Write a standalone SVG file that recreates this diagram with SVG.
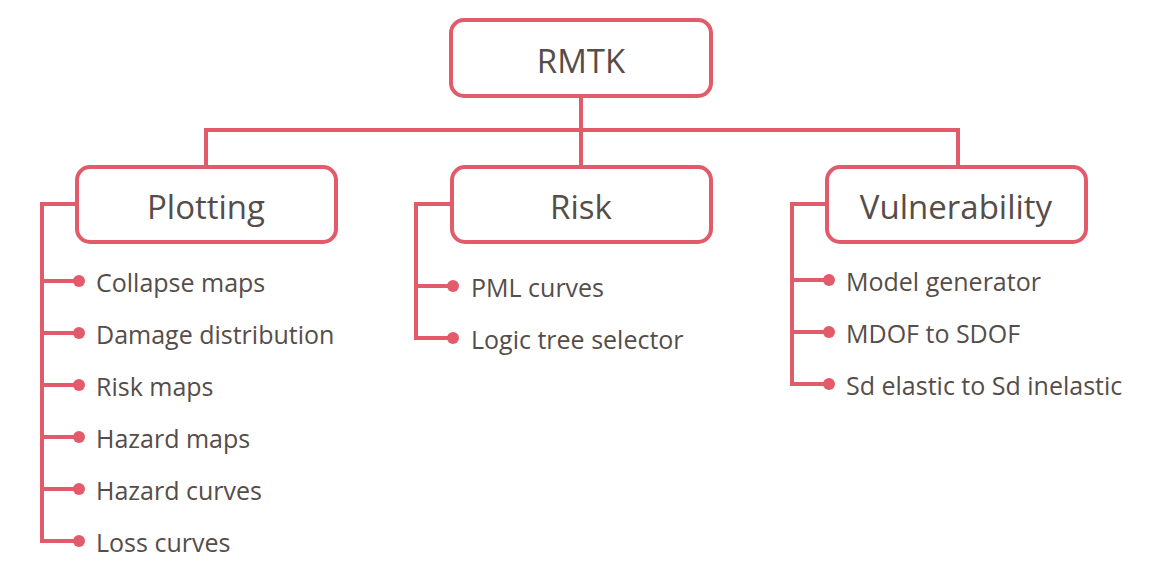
<svg xmlns="http://www.w3.org/2000/svg" width="1163" height="574" viewBox="0 0 1163 574">
<style>
.box{fill:#fff;stroke:#E25B6B;stroke-width:4}
.ln{fill:none;stroke:#E25B6B;stroke-width:4;stroke-linejoin:miter}
.dot{fill:#E25B6B}
.t{font-family:"Open Sans","Liberation Sans",sans-serif;fill:#564D49}
.h{font-size:33px;text-anchor:middle}
.c{font-size:25px}
</style>
<rect width="1163" height="574" fill="#fff"/>
<g id="connectors">
<path class="ln" d="M581 97V167M206 130H958M206 128V167M958 128V167"/>
<path class="ln" d="M76 204H42V541H79M42 281H79M42 333H79M42 385H79M42 437H79M42 489H79"/>
<path class="ln" d="M451 204H416V338H453M416 286H453"/>
<path class="ln" d="M826 204H792V384H829M792 280H829M792 332H829"/>
</g>
<g id="RMTK"><rect class="box" x="451" y="20" width="260" height="76" rx="13"/><text class="t h" x="581" y="73">RMTK</text></g>
<g id="Plotting"><rect class="box" x="77" y="167" width="259" height="75" rx="13"/><text class="t h" x="206" y="219">Plotting</text></g>
<g id="Risk"><rect class="box" x="452" y="167" width="259" height="75" rx="13"/><text class="t h" x="581" y="219">Risk</text></g>
<g id="Vulnerability"><rect class="box" x="827" y="167" width="259" height="75" rx="13"/><text class="t h" x="956" y="219">Vulnerability</text></g>
<g id="plotting-items">
<circle class="dot" cx="79" cy="281" r="6"/><text class="t c" x="96" y="292">Collapse maps</text>
<circle class="dot" cx="79" cy="333" r="6"/><text class="t c" x="96" y="344">Damage distribution</text>
<circle class="dot" cx="79" cy="385" r="6"/><text class="t c" x="96" y="396">Risk maps</text>
<circle class="dot" cx="79" cy="437" r="6"/><text class="t c" x="96" y="448">Hazard maps</text>
<circle class="dot" cx="79" cy="489" r="6"/><text class="t c" x="96" y="500">Hazard curves</text>
<circle class="dot" cx="79" cy="541" r="6"/><text class="t c" x="96" y="552">Loss curves</text>
</g>
<g id="risk-items">
<circle class="dot" cx="453" cy="286" r="6"/><text class="t c" x="471" y="297">PML curves</text>
<circle class="dot" cx="453" cy="338" r="6"/><text class="t c" x="471" y="349">Logic tree selector</text>
</g>
<g id="vulnerability-items">
<circle class="dot" cx="829" cy="280" r="6"/><text class="t c" x="846" y="291">Model generator</text>
<circle class="dot" cx="829" cy="332" r="6"/><text class="t c" x="846" y="343">MDOF to SDOF</text>
<circle class="dot" cx="829" cy="384" r="6"/><text class="t c" x="846" y="395">Sd elastic to Sd inelastic</text>
</g>
</svg>
